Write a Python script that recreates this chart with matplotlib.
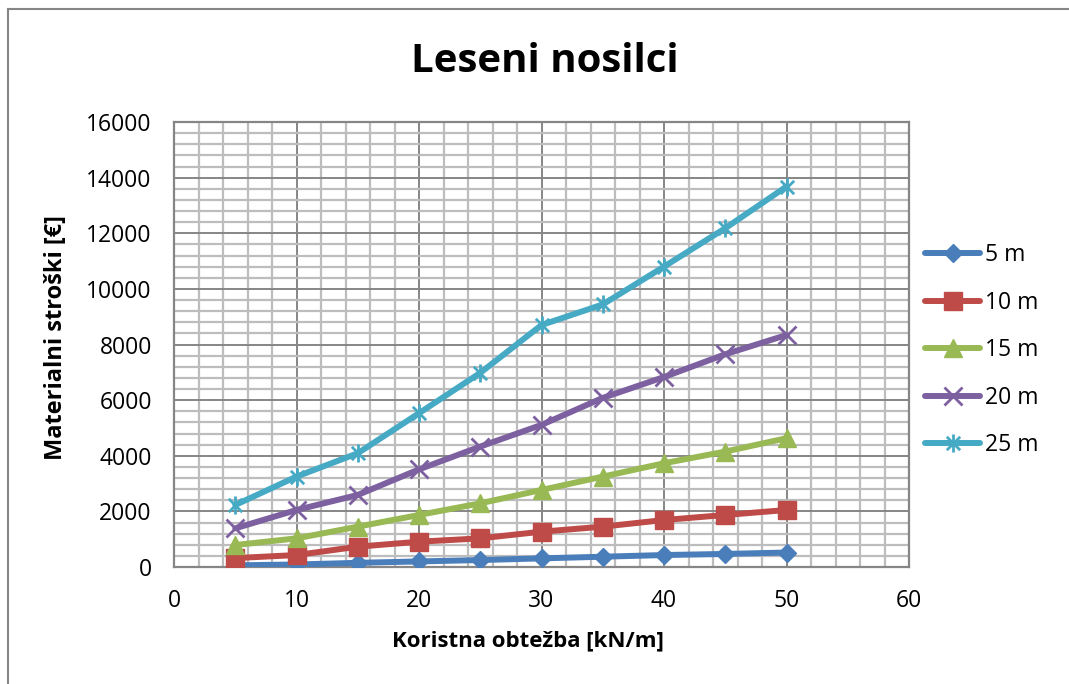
import matplotlib
matplotlib.use('Agg')
import matplotlib.pyplot as plt
from matplotlib.path import Path
from matplotlib.lines import Line2D
from matplotlib.ticker import MultipleLocator

plt.rcParams['font.family'] = ['Open Sans', 'DejaVu Sans']

# data
loads = [5, 10, 15, 20, 25, 30, 35, 40, 45, 50]
series_names = ['5 m', '10 m', '15 m', '20 m', '25 m']
cost_5 = [60, 90, 150, 200, 250, 310, 370, 430, 470, 520]
cost_10 = [320, 430, 730, 910, 1030, 1270, 1450, 1690, 1870, 2050]
cost_15 = [790, 1030, 1450, 1870, 2290, 2770, 3250, 3730, 4150, 4630]
cost_20 = [1390, 2050, 2590, 3510, 4330, 5110, 6080, 6830, 7650, 8340]
cost_25 = [2230, 3250, 4090, 5530, 6980, 8700, 9440, 10800, 12180, 13680]
costs = [cost_5, cost_10, cost_15, cost_20, cost_25]

colors = ['#4A7EBB', '#BE4B48', '#98B954', '#7D60A0', '#46AAC5']

# excel style star: x with a vertical bar
star = Path([(-1, -1), (1, 1), (-1, 1), (1, -1), (0, -1.35), (0, 1.35)],
            [Path.MOVETO, Path.LINETO, Path.MOVETO, Path.LINETO,
             Path.MOVETO, Path.LINETO])
markers = ['D', 's', '^', 'x', star]
msizes = [9.5, 13, 13, 13, 13]

fig = plt.figure(figsize=(10.69, 6.84), dpi=100)
ax = fig.add_axes([174 / 1069, 1 - 567 / 684, (909 - 174) / 1069,
                   (567 - 122) / 684])

for name, vals, c, m, ms in zip(series_names, costs, colors, markers, msizes):
    thin = m == 'x' or m is star
    ax.plot(loads, vals, color=c, lw=4.3, marker=m, ms=ms,
            markerfacecolor=c, markeredgecolor=c, mew=2 if thin else 1,
            label=name, solid_capstyle='round', solid_joinstyle='round',
            zorder=3)

ax.set_xlim(0, 60)
ax.set_ylim(0, 16000)
ax.xaxis.set_major_locator(MultipleLocator(10))
ax.xaxis.set_minor_locator(MultipleLocator(2))
ax.yaxis.set_major_locator(MultipleLocator(2000))
ax.yaxis.set_minor_locator(MultipleLocator(400))
ax.grid(which='minor', color='#BDBDBD', lw=1.6, zorder=0)
ax.grid(which='major', color='#868686', lw=1.4, zorder=1)
ax.set_axisbelow(True)
ax.tick_params(which='both', length=0, labelsize=16.5)
ax.tick_params(axis='y', pad=16)
ax.tick_params(axis='x', pad=16)
for s in ax.spines.values():
    s.set_color('#868686')
    s.set_linewidth(1.6)

ax.set_xlabel('Koristna obtežba [kN/m]', fontsize=16, fontweight='bold')
ax.set_ylabel('Materialni stroški [€]', fontsize=17, fontweight='bold')
ax.xaxis.set_label_coords(0.4816, -0.142)
ax.yaxis.set_label_coords(-0.144, 0.515)
fig.text(545 / 1069, 1 - 62 / 684, 'Leseni nosilci', fontsize=29,
         fontweight='bold', ha='center', va='center')

leg = ax.legend(loc='center left', bbox_to_anchor=(1.022, 0.487),
                frameon=False, fontsize=16.5, handlelength=2.4,
                labelspacing=1.03, handletextpad=0.2, borderaxespad=0,
                borderpad=0)

# outer chart border (top and left only visible)
fig.add_artist(Line2D([8 / 1069, 8 / 1069], [0, 1 - 9 / 684],
                      color='#868686', lw=1.5))
fig.add_artist(Line2D([8 / 1069, 1], [1 - 9 / 684, 1 - 9 / 684],
                      color='#868686', lw=1.5))

fig.savefig('out.png', dpi=100)
